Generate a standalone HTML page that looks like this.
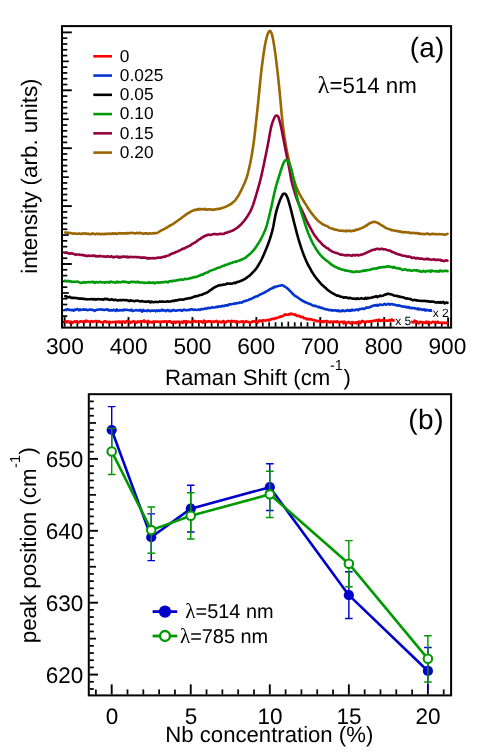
<!DOCTYPE html>
<html lang="en"><head><meta charset="utf-8"><title>Raman spectra</title>
<style>html,body{margin:0;padding:0;background:#fff;}body{width:501px;height:752px;position:relative;overflow:hidden;font-family:"Liberation Sans", sans-serif;}</style></head>
<body>
<svg width="501" height="752" viewBox="0 0 501 752" style="display:block;position:absolute;left:0;top:0;will-change:transform" font-family='"Liberation Sans", sans-serif' fill="#000" text-rendering="geometricPrecision">
<rect x="0" y="0" width="501" height="752" fill="#ffffff"/>
<defs><clipPath id="ca"><rect x="62.0" y="26.1" width="389.1" height="301.5"/></clipPath></defs>
<g stroke="#000" stroke-linecap="butt"><line x1="64.60" y1="326.60" x2="64.60" y2="317.10" stroke-width="1.9"/><line x1="70.99" y1="326.60" x2="70.99" y2="322.30" stroke-width="1.7"/><line x1="77.38" y1="326.60" x2="77.38" y2="322.30" stroke-width="1.7"/><line x1="83.78" y1="326.60" x2="83.78" y2="322.30" stroke-width="1.7"/><line x1="90.17" y1="326.60" x2="90.17" y2="322.30" stroke-width="1.7"/><line x1="96.56" y1="326.60" x2="96.56" y2="321.60" stroke-width="1.7"/><line x1="102.95" y1="326.60" x2="102.95" y2="322.30" stroke-width="1.7"/><line x1="109.34" y1="326.60" x2="109.34" y2="322.30" stroke-width="1.7"/><line x1="115.74" y1="326.60" x2="115.74" y2="322.30" stroke-width="1.7"/><line x1="122.13" y1="326.60" x2="122.13" y2="322.30" stroke-width="1.7"/><line x1="128.52" y1="326.60" x2="128.52" y2="317.10" stroke-width="1.9"/><line x1="134.91" y1="326.60" x2="134.91" y2="322.30" stroke-width="1.7"/><line x1="141.30" y1="326.60" x2="141.30" y2="322.30" stroke-width="1.7"/><line x1="147.70" y1="326.60" x2="147.70" y2="322.30" stroke-width="1.7"/><line x1="154.09" y1="326.60" x2="154.09" y2="322.30" stroke-width="1.7"/><line x1="160.48" y1="326.60" x2="160.48" y2="321.60" stroke-width="1.7"/><line x1="166.87" y1="326.60" x2="166.87" y2="322.30" stroke-width="1.7"/><line x1="173.26" y1="326.60" x2="173.26" y2="322.30" stroke-width="1.7"/><line x1="179.66" y1="326.60" x2="179.66" y2="322.30" stroke-width="1.7"/><line x1="186.05" y1="326.60" x2="186.05" y2="322.30" stroke-width="1.7"/><line x1="192.44" y1="326.60" x2="192.44" y2="317.10" stroke-width="1.9"/><line x1="198.83" y1="326.60" x2="198.83" y2="322.30" stroke-width="1.7"/><line x1="205.22" y1="326.60" x2="205.22" y2="322.30" stroke-width="1.7"/><line x1="211.62" y1="326.60" x2="211.62" y2="322.30" stroke-width="1.7"/><line x1="218.01" y1="326.60" x2="218.01" y2="322.30" stroke-width="1.7"/><line x1="224.40" y1="326.60" x2="224.40" y2="321.60" stroke-width="1.7"/><line x1="230.79" y1="326.60" x2="230.79" y2="322.30" stroke-width="1.7"/><line x1="237.18" y1="326.60" x2="237.18" y2="322.30" stroke-width="1.7"/><line x1="243.58" y1="326.60" x2="243.58" y2="322.30" stroke-width="1.7"/><line x1="249.97" y1="326.60" x2="249.97" y2="322.30" stroke-width="1.7"/><line x1="256.36" y1="326.60" x2="256.36" y2="317.10" stroke-width="1.9"/><line x1="262.75" y1="326.60" x2="262.75" y2="322.30" stroke-width="1.7"/><line x1="269.14" y1="326.60" x2="269.14" y2="322.30" stroke-width="1.7"/><line x1="275.54" y1="326.60" x2="275.54" y2="322.30" stroke-width="1.7"/><line x1="281.93" y1="326.60" x2="281.93" y2="322.30" stroke-width="1.7"/><line x1="288.32" y1="326.60" x2="288.32" y2="321.60" stroke-width="1.7"/><line x1="294.71" y1="326.60" x2="294.71" y2="322.30" stroke-width="1.7"/><line x1="301.10" y1="326.60" x2="301.10" y2="322.30" stroke-width="1.7"/><line x1="307.50" y1="326.60" x2="307.50" y2="322.30" stroke-width="1.7"/><line x1="313.89" y1="326.60" x2="313.89" y2="322.30" stroke-width="1.7"/><line x1="320.28" y1="326.60" x2="320.28" y2="317.10" stroke-width="1.9"/><line x1="326.67" y1="326.60" x2="326.67" y2="322.30" stroke-width="1.7"/><line x1="333.06" y1="326.60" x2="333.06" y2="322.30" stroke-width="1.7"/><line x1="339.46" y1="326.60" x2="339.46" y2="322.30" stroke-width="1.7"/><line x1="345.85" y1="326.60" x2="345.85" y2="322.30" stroke-width="1.7"/><line x1="352.24" y1="326.60" x2="352.24" y2="321.60" stroke-width="1.7"/><line x1="358.63" y1="326.60" x2="358.63" y2="322.30" stroke-width="1.7"/><line x1="365.02" y1="326.60" x2="365.02" y2="322.30" stroke-width="1.7"/><line x1="371.42" y1="326.60" x2="371.42" y2="322.30" stroke-width="1.7"/><line x1="377.81" y1="326.60" x2="377.81" y2="322.30" stroke-width="1.7"/><line x1="384.20" y1="326.60" x2="384.20" y2="317.10" stroke-width="1.9"/><line x1="390.59" y1="326.60" x2="390.59" y2="322.30" stroke-width="1.7"/><line x1="396.98" y1="326.60" x2="396.98" y2="322.30" stroke-width="1.7"/><line x1="403.38" y1="326.60" x2="403.38" y2="322.30" stroke-width="1.7"/><line x1="409.77" y1="326.60" x2="409.77" y2="322.30" stroke-width="1.7"/><line x1="416.16" y1="326.60" x2="416.16" y2="321.60" stroke-width="1.7"/><line x1="422.55" y1="326.60" x2="422.55" y2="322.30" stroke-width="1.7"/><line x1="428.94" y1="326.60" x2="428.94" y2="322.30" stroke-width="1.7"/><line x1="435.34" y1="326.60" x2="435.34" y2="322.30" stroke-width="1.7"/><line x1="441.73" y1="326.60" x2="441.73" y2="322.30" stroke-width="1.7"/><line x1="448.12" y1="326.60" x2="448.12" y2="317.10" stroke-width="1.9"/><line x1="63.00" y1="32.40" x2="71.80" y2="32.40" stroke-width="1.9"/><line x1="63.00" y1="38.19" x2="67.30" y2="38.19" stroke-width="1.7"/><line x1="63.00" y1="43.98" x2="67.30" y2="43.98" stroke-width="1.7"/><line x1="63.00" y1="49.77" x2="67.30" y2="49.77" stroke-width="1.7"/><line x1="63.00" y1="55.56" x2="67.30" y2="55.56" stroke-width="1.7"/><line x1="63.00" y1="61.35" x2="68.80" y2="61.35" stroke-width="1.7"/><line x1="63.00" y1="67.14" x2="67.30" y2="67.14" stroke-width="1.7"/><line x1="63.00" y1="72.93" x2="67.30" y2="72.93" stroke-width="1.7"/><line x1="63.00" y1="78.72" x2="67.30" y2="78.72" stroke-width="1.7"/><line x1="63.00" y1="84.51" x2="67.30" y2="84.51" stroke-width="1.7"/><line x1="63.00" y1="90.30" x2="71.80" y2="90.30" stroke-width="1.9"/><line x1="63.00" y1="96.09" x2="67.30" y2="96.09" stroke-width="1.7"/><line x1="63.00" y1="101.88" x2="67.30" y2="101.88" stroke-width="1.7"/><line x1="63.00" y1="107.67" x2="67.30" y2="107.67" stroke-width="1.7"/><line x1="63.00" y1="113.46" x2="67.30" y2="113.46" stroke-width="1.7"/><line x1="63.00" y1="119.25" x2="68.80" y2="119.25" stroke-width="1.7"/><line x1="63.00" y1="125.04" x2="67.30" y2="125.04" stroke-width="1.7"/><line x1="63.00" y1="130.83" x2="67.30" y2="130.83" stroke-width="1.7"/><line x1="63.00" y1="136.62" x2="67.30" y2="136.62" stroke-width="1.7"/><line x1="63.00" y1="142.41" x2="67.30" y2="142.41" stroke-width="1.7"/><line x1="63.00" y1="148.20" x2="71.80" y2="148.20" stroke-width="1.9"/><line x1="63.00" y1="153.99" x2="67.30" y2="153.99" stroke-width="1.7"/><line x1="63.00" y1="159.78" x2="67.30" y2="159.78" stroke-width="1.7"/><line x1="63.00" y1="165.57" x2="67.30" y2="165.57" stroke-width="1.7"/><line x1="63.00" y1="171.36" x2="67.30" y2="171.36" stroke-width="1.7"/><line x1="63.00" y1="177.15" x2="68.80" y2="177.15" stroke-width="1.7"/><line x1="63.00" y1="182.94" x2="67.30" y2="182.94" stroke-width="1.7"/><line x1="63.00" y1="188.73" x2="67.30" y2="188.73" stroke-width="1.7"/><line x1="63.00" y1="194.52" x2="67.30" y2="194.52" stroke-width="1.7"/><line x1="63.00" y1="200.31" x2="67.30" y2="200.31" stroke-width="1.7"/><line x1="63.00" y1="206.10" x2="71.80" y2="206.10" stroke-width="1.9"/><line x1="63.00" y1="211.89" x2="67.30" y2="211.89" stroke-width="1.7"/><line x1="63.00" y1="217.68" x2="67.30" y2="217.68" stroke-width="1.7"/><line x1="63.00" y1="223.47" x2="67.30" y2="223.47" stroke-width="1.7"/><line x1="63.00" y1="229.26" x2="67.30" y2="229.26" stroke-width="1.7"/><line x1="63.00" y1="235.05" x2="68.80" y2="235.05" stroke-width="1.7"/><line x1="63.00" y1="240.84" x2="67.30" y2="240.84" stroke-width="1.7"/><line x1="63.00" y1="246.63" x2="67.30" y2="246.63" stroke-width="1.7"/><line x1="63.00" y1="252.42" x2="67.30" y2="252.42" stroke-width="1.7"/><line x1="63.00" y1="258.21" x2="67.30" y2="258.21" stroke-width="1.7"/><line x1="63.00" y1="264.00" x2="71.80" y2="264.00" stroke-width="1.9"/><line x1="63.00" y1="269.79" x2="67.30" y2="269.79" stroke-width="1.7"/><line x1="63.00" y1="275.58" x2="67.30" y2="275.58" stroke-width="1.7"/><line x1="63.00" y1="281.37" x2="67.30" y2="281.37" stroke-width="1.7"/><line x1="63.00" y1="287.16" x2="67.30" y2="287.16" stroke-width="1.7"/><line x1="63.00" y1="292.95" x2="68.80" y2="292.95" stroke-width="1.7"/><line x1="63.00" y1="298.74" x2="67.30" y2="298.74" stroke-width="1.7"/><line x1="63.00" y1="304.53" x2="67.30" y2="304.53" stroke-width="1.7"/><line x1="63.00" y1="310.32" x2="67.30" y2="310.32" stroke-width="1.7"/><line x1="63.00" y1="316.11" x2="67.30" y2="316.11" stroke-width="1.7"/><line x1="63.00" y1="321.90" x2="71.80" y2="321.90" stroke-width="1.9"/></g>
<g fill="none" stroke-width="2.6" stroke-linejoin="round" stroke-linecap="round" clip-path="url(#ca)">
<path d="M65.30,232.40 L66.35,232.66 L67.40,232.73 L68.45,232.76 L69.50,233.01 L70.55,233.01 L71.60,233.38 L72.65,233.80 L73.70,233.40 L74.75,233.44 L75.80,233.80 L76.85,233.82 L77.90,233.79 L78.95,233.54 L80.00,233.82 L81.05,234.06 L82.10,233.50 L83.15,233.78 L84.20,233.40 L85.25,233.59 L86.30,233.46 L87.35,233.94 L88.40,233.66 L89.45,234.12 L90.50,234.11 L91.55,234.02 L92.60,233.34 L93.65,233.93 L94.70,234.08 L95.75,234.13 L96.80,233.64 L97.85,233.95 L98.90,233.80 L99.95,233.83 L101.00,234.35 L102.05,233.79 L103.10,233.99 L104.15,234.22 L105.20,233.77 L106.25,233.87 L107.30,233.90 L108.35,233.85 L109.40,233.45 L110.45,233.77 L111.50,234.08 L112.55,233.23 L113.60,233.85 L114.65,233.61 L115.70,233.35 L116.75,234.04 L117.80,233.66 L118.85,233.07 L119.90,233.38 L120.95,233.49 L122.00,233.24 L123.05,233.45 L124.10,233.20 L125.15,233.39 L126.20,233.58 L127.25,232.95 L128.30,233.19 L129.35,232.98 L130.40,233.14 L131.45,232.75 L132.50,232.93 L133.55,233.05 L134.60,233.38 L135.65,233.47 L136.70,232.79 L137.75,232.97 L138.80,233.41 L139.85,232.70 L140.90,233.17 L141.95,233.30 L143.00,233.72 L144.05,233.59 L145.10,233.33 L146.15,233.35 L147.20,233.40 L148.25,233.94 L149.30,233.37 L150.35,233.41 L151.40,233.58 L152.45,233.41 L153.50,233.33 L154.55,233.02 L155.60,233.22 L156.65,232.93 L157.70,232.74 L158.75,232.04 L159.80,231.29 L160.85,230.77 L161.90,230.10 L162.95,229.78 L164.00,229.10 L165.05,228.66 L166.10,227.84 L167.15,227.51 L168.20,226.63 L169.25,225.97 L170.30,225.58 L171.35,224.85 L172.40,224.32 L173.45,223.90 L174.50,222.81 L175.55,222.12 L176.60,221.50 L177.65,220.80 L178.70,219.97 L179.75,219.21 L180.80,218.50 L181.85,217.67 L182.90,216.74 L183.95,216.11 L185.00,215.37 L186.05,214.49 L187.10,213.92 L188.15,213.08 L189.20,212.67 L190.25,211.96 L191.30,211.41 L192.35,210.84 L193.40,210.55 L194.45,209.89 L195.50,209.80 L196.55,209.86 L197.60,209.10 L198.65,209.59 L199.70,208.82 L200.75,209.42 L201.80,208.95 L202.85,209.44 L203.90,209.27 L204.95,208.81 L206.00,209.63 L207.05,209.70 L208.10,209.34 L209.15,209.37 L210.20,209.49 L211.25,209.37 L212.30,209.99 L213.35,209.54 L214.40,209.62 L215.45,209.32 L216.50,209.18 L217.55,208.83 L218.60,209.15 L219.65,208.63 L220.70,208.60 L221.75,208.12 L222.80,207.67 L223.85,207.39 L224.90,206.98 L225.95,206.67 L227.00,206.15 L228.05,205.65 L229.10,204.94 L230.15,204.40 L231.20,204.02 L232.25,202.95 L233.30,202.03 L234.35,201.19 L235.40,200.14 L236.45,198.53 L237.50,197.08 L238.55,195.37 L239.60,193.43 L240.65,191.48 L241.70,189.22 L242.75,186.97 L243.80,184.73 L244.85,182.50 L245.90,179.82 L246.95,176.65 L248.00,172.81 L249.05,168.47 L250.10,163.77 L251.15,158.48 L252.20,152.52 L253.25,145.75 L254.30,138.04 L255.35,128.76 L256.40,118.93 L257.45,109.15 L258.50,99.01 L259.55,88.02 L260.60,77.52 L261.65,68.34 L262.70,60.07 L263.75,52.70 L264.80,46.06 L265.85,40.81 L266.90,36.56 L267.95,33.34 L269.00,31.39 L270.05,30.92 L271.10,32.13 L272.15,34.93 L273.20,39.92 L274.25,46.34 L275.30,53.58 L276.35,61.89 L277.40,70.60 L278.45,80.04 L279.50,90.38 L280.55,101.67 L281.60,113.56 L282.65,123.29 L283.70,131.46 L284.75,138.60 L285.80,145.07 L286.85,150.86 L287.90,155.96 L288.95,160.70 L290.00,165.32 L291.05,169.64 L292.10,173.70 L293.15,177.47 L294.20,180.89 L295.25,183.99 L296.30,186.88 L297.35,189.39 L298.40,191.59 L299.45,193.76 L300.50,195.65 L301.55,197.57 L302.60,199.29 L303.65,201.06 L304.70,202.74 L305.75,204.44 L306.80,206.20 L307.85,207.77 L308.90,209.45 L309.95,210.98 L311.00,212.57 L312.05,213.67 L313.10,215.22 L314.15,216.45 L315.20,217.72 L316.25,218.77 L317.30,219.95 L318.35,221.05 L319.40,221.83 L320.45,222.66 L321.50,223.37 L322.55,224.26 L323.60,224.76 L324.65,225.04 L325.70,225.80 L326.75,226.11 L327.80,226.41 L328.85,227.31 L329.90,228.06 L330.95,228.28 L332.00,228.45 L333.05,228.83 L334.10,229.53 L335.15,229.60 L336.20,229.80 L337.25,230.00 L338.30,230.23 L339.35,230.60 L340.40,230.73 L341.45,230.81 L342.50,230.61 L343.55,231.10 L344.60,230.80 L345.65,231.32 L346.70,230.62 L347.75,230.93 L348.80,230.94 L349.85,230.54 L350.90,231.31 L351.95,231.12 L353.00,230.53 L354.05,230.67 L355.10,230.38 L356.15,229.53 L357.20,229.79 L358.25,229.40 L359.30,229.07 L360.35,228.47 L361.40,228.14 L362.45,227.66 L363.50,227.33 L364.55,226.65 L365.60,225.96 L366.65,225.48 L367.70,224.53 L368.75,223.91 L369.80,223.04 L370.85,222.92 L371.90,222.42 L372.95,222.08 L374.00,221.89 L375.05,221.85 L376.10,222.25 L377.15,222.62 L378.20,223.12 L379.25,223.73 L380.30,224.55 L381.35,225.05 L382.40,225.62 L383.45,226.27 L384.50,226.94 L385.55,227.86 L386.60,228.22 L387.65,228.63 L388.70,228.99 L389.75,229.22 L390.80,229.73 L391.85,230.22 L392.90,230.25 L393.95,230.54 L395.00,230.78 L396.05,231.06 L397.10,230.86 L398.15,231.33 L399.20,231.33 L400.25,231.89 L401.30,231.62 L402.35,232.07 L403.40,232.42 L404.45,232.08 L405.50,232.11 L406.55,232.41 L407.60,232.47 L408.65,232.33 L409.70,232.80 L410.75,233.29 L411.80,232.83 L412.85,232.94 L413.90,232.83 L414.95,233.27 L416.00,232.96 L417.05,233.09 L418.10,233.79 L419.15,233.30 L420.20,233.90 L421.25,234.09 L422.30,233.81 L423.35,233.95 L424.40,234.39 L425.45,233.83 L426.50,233.75 L427.55,233.57 L428.60,233.99 L429.65,234.43 L430.70,234.31 L431.75,233.80 L432.80,233.85 L433.85,233.97 L434.90,234.22 L435.95,234.10 L437.00,234.25 L438.05,234.29 L439.10,234.14 L440.15,234.23 L441.20,234.32 L442.25,234.24 L443.30,234.43 L444.35,234.84 L445.40,234.47 L446.45,234.31 L447.50,233.80" stroke="#996600"/>
<path d="M65.30,252.90 L66.35,252.46 L67.40,252.75 L68.45,253.48 L69.50,253.60 L70.55,253.53 L71.60,253.28 L72.65,253.78 L73.70,253.84 L74.75,254.33 L75.80,254.89 L76.85,254.52 L77.90,254.43 L78.95,254.49 L80.00,254.93 L81.05,255.04 L82.10,254.90 L83.15,255.36 L84.20,255.09 L85.25,255.81 L86.30,255.88 L87.35,255.96 L88.40,255.58 L89.45,255.93 L90.50,255.81 L91.55,255.80 L92.60,255.87 L93.65,255.64 L94.70,255.65 L95.75,256.37 L96.80,256.13 L97.85,256.30 L98.90,256.58 L99.95,255.79 L101.00,256.12 L102.05,256.46 L103.10,256.56 L104.15,256.36 L105.20,256.83 L106.25,256.61 L107.30,256.20 L108.35,256.32 L109.40,256.89 L110.45,256.81 L111.50,256.09 L112.55,257.14 L113.60,256.92 L114.65,257.18 L115.70,256.65 L116.75,256.69 L117.80,256.45 L118.85,257.63 L119.90,256.78 L120.95,257.36 L122.00,256.67 L123.05,256.94 L124.10,256.38 L125.15,256.81 L126.20,257.26 L127.25,256.58 L128.30,257.33 L129.35,257.13 L130.40,256.73 L131.45,256.93 L132.50,256.98 L133.55,257.15 L134.60,257.05 L135.65,257.02 L136.70,257.24 L137.75,257.10 L138.80,257.09 L139.85,257.53 L140.90,257.87 L141.95,257.25 L143.00,257.77 L144.05,257.65 L145.10,257.62 L146.15,258.23 L147.20,257.93 L148.25,258.60 L149.30,258.01 L150.35,258.41 L151.40,258.22 L152.45,258.04 L153.50,258.38 L154.55,258.09 L155.60,258.21 L156.65,257.92 L157.70,257.53 L158.75,257.69 L159.80,257.61 L160.85,257.71 L161.90,257.07 L162.95,257.11 L164.00,256.51 L165.05,256.83 L166.10,256.18 L167.15,255.67 L168.20,255.51 L169.25,255.22 L170.30,254.30 L171.35,253.93 L172.40,253.55 L173.45,253.03 L174.50,252.85 L175.55,252.18 L176.60,251.74 L177.65,251.50 L178.70,250.80 L179.75,250.53 L180.80,249.80 L181.85,249.27 L182.90,248.66 L183.95,248.79 L185.00,247.91 L186.05,247.50 L187.10,246.94 L188.15,246.44 L189.20,245.89 L190.25,245.63 L191.30,244.59 L192.35,243.93 L193.40,243.41 L194.45,242.73 L195.50,242.31 L196.55,241.56 L197.60,240.55 L198.65,239.72 L199.70,239.14 L200.75,238.71 L201.80,237.41 L202.85,237.19 L203.90,236.31 L204.95,236.13 L206.00,235.35 L207.05,235.22 L208.10,234.69 L209.15,234.59 L210.20,235.05 L211.25,234.82 L212.30,234.40 L213.35,234.21 L214.40,233.86 L215.45,234.29 L216.50,234.37 L217.55,234.30 L218.60,234.22 L219.65,233.83 L220.70,233.97 L221.75,233.81 L222.80,233.94 L223.85,233.87 L224.90,233.18 L225.95,232.79 L227.00,232.65 L228.05,232.22 L229.10,231.84 L230.15,231.60 L231.20,231.00 L232.25,230.81 L233.30,230.16 L234.35,229.64 L235.40,228.95 L236.45,228.20 L237.50,227.43 L238.55,226.68 L239.60,225.73 L240.65,224.82 L241.70,223.71 L242.75,222.43 L243.80,221.34 L244.85,219.90 L245.90,218.56 L246.95,217.07 L248.00,215.30 L249.05,213.70 L250.10,211.79 L251.15,209.71 L252.20,207.30 L253.25,204.35 L254.30,201.00 L255.35,197.60 L256.40,194.17 L257.45,190.66 L258.50,186.92 L259.55,183.10 L260.60,179.01 L261.65,174.58 L262.70,169.84 L263.75,164.93 L264.80,159.85 L265.85,154.83 L266.90,149.59 L267.95,144.23 L269.00,138.60 L270.05,132.42 L271.10,127.09 L272.15,123.38 L273.20,120.41 L274.25,118.00 L275.30,116.05 L276.35,115.49 L277.40,115.72 L278.45,117.10 L279.50,120.59 L280.55,124.73 L281.60,129.60 L282.65,134.93 L283.70,140.28 L284.75,145.85 L285.80,151.28 L286.85,156.62 L287.90,161.73 L288.95,166.95 L290.00,172.46 L291.05,178.76 L292.10,183.35 L293.15,187.15 L294.20,190.69 L295.25,194.28 L296.30,197.56 L297.35,200.47 L298.40,203.05 L299.45,205.35 L300.50,207.49 L301.55,209.66 L302.60,211.70 L303.65,214.01 L304.70,216.37 L305.75,218.68 L306.80,220.99 L307.85,223.16 L308.90,225.19 L309.95,227.22 L311.00,229.08 L312.05,230.94 L313.10,232.92 L314.15,234.59 L315.20,236.20 L316.25,237.44 L317.30,238.88 L318.35,240.11 L319.40,241.28 L320.45,242.27 L321.50,243.55 L322.55,244.69 L323.60,245.58 L324.65,246.33 L325.70,247.20 L326.75,248.05 L327.80,248.28 L328.85,249.34 L329.90,250.08 L330.95,250.72 L332.00,251.45 L333.05,251.88 L334.10,252.20 L335.15,252.61 L336.20,253.06 L337.25,253.15 L338.30,253.59 L339.35,254.10 L340.40,254.63 L341.45,254.42 L342.50,254.67 L343.55,254.90 L344.60,255.35 L345.65,255.05 L346.70,255.56 L347.75,254.91 L348.80,255.20 L349.85,255.25 L350.90,255.59 L351.95,255.71 L353.00,254.91 L354.05,255.10 L355.10,255.47 L356.15,255.12 L357.20,254.80 L358.25,255.39 L359.30,255.12 L360.35,254.97 L361.40,254.53 L362.45,254.54 L363.50,253.93 L364.55,253.79 L365.60,253.01 L366.65,252.58 L367.70,252.19 L368.75,251.47 L369.80,251.20 L370.85,250.73 L371.90,250.13 L372.95,250.00 L374.00,249.60 L375.05,249.59 L376.10,248.97 L377.15,248.70 L378.20,248.88 L379.25,249.24 L380.30,249.13 L381.35,248.69 L382.40,248.87 L383.45,249.34 L384.50,249.18 L385.55,249.30 L386.60,249.86 L387.65,250.28 L388.70,250.37 L389.75,250.61 L390.80,251.06 L391.85,251.87 L392.90,252.03 L393.95,252.55 L395.00,253.04 L396.05,253.55 L397.10,253.82 L398.15,254.39 L399.20,254.48 L400.25,254.89 L401.30,255.01 L402.35,255.75 L403.40,255.73 L404.45,255.80 L405.50,256.11 L406.55,256.35 L407.60,256.77 L408.65,256.41 L409.70,256.72 L410.75,257.06 L411.80,257.96 L412.85,257.72 L413.90,257.60 L414.95,257.96 L416.00,258.45 L417.05,257.98 L418.10,258.07 L419.15,258.62 L420.20,258.54 L421.25,258.70 L422.30,258.48 L423.35,259.26 L424.40,259.30 L425.45,259.08 L426.50,259.20 L427.55,258.54 L428.60,259.38 L429.65,259.24 L430.70,259.51 L431.75,259.68 L432.80,259.49 L433.85,259.21 L434.90,259.88 L435.95,259.67 L437.00,259.88 L438.05,259.89 L439.10,260.06 L440.15,259.60 L441.20,260.68 L442.25,260.50 L443.30,260.84 L444.35,261.17 L445.40,260.71 L446.45,260.28 L447.50,260.62" stroke="#94003e"/>
<path d="M65.30,280.66 L66.35,281.00 L67.40,281.30 L68.45,280.83 L69.50,281.63 L70.55,281.19 L71.60,281.83 L72.65,281.79 L73.70,281.78 L74.75,281.91 L75.80,281.80 L76.85,281.82 L77.90,281.51 L78.95,282.10 L80.00,282.77 L81.05,282.85 L82.10,282.65 L83.15,282.45 L84.20,281.96 L85.25,282.72 L86.30,282.18 L87.35,282.18 L88.40,282.10 L89.45,282.23 L90.50,282.04 L91.55,282.17 L92.60,281.81 L93.65,282.07 L94.70,283.02 L95.75,282.17 L96.80,282.11 L97.85,282.39 L98.90,282.45 L99.95,281.80 L101.00,282.13 L102.05,282.53 L103.10,282.30 L104.15,282.24 L105.20,282.76 L106.25,281.96 L107.30,282.23 L108.35,282.01 L109.40,282.74 L110.45,281.50 L111.50,281.96 L112.55,282.01 L113.60,282.44 L114.65,282.42 L115.70,282.70 L116.75,281.63 L117.80,282.47 L118.85,282.09 L119.90,281.96 L120.95,282.39 L122.00,281.87 L123.05,281.45 L124.10,282.07 L125.15,281.66 L126.20,281.97 L127.25,282.33 L128.30,282.31 L129.35,282.77 L130.40,282.13 L131.45,281.65 L132.50,281.93 L133.55,281.89 L134.60,281.80 L135.65,282.40 L136.70,282.06 L137.75,281.64 L138.80,282.58 L139.85,282.35 L140.90,282.55 L141.95,282.51 L143.00,282.73 L144.05,282.57 L145.10,283.02 L146.15,282.78 L147.20,282.81 L148.25,282.85 L149.30,282.25 L150.35,282.72 L151.40,282.72 L152.45,282.91 L153.50,282.40 L154.55,283.46 L155.60,282.94 L156.65,282.48 L157.70,282.29 L158.75,282.65 L159.80,282.61 L160.85,282.31 L161.90,282.44 L162.95,282.11 L164.00,282.34 L165.05,281.84 L166.10,281.91 L167.15,282.06 L168.20,282.39 L169.25,281.23 L170.30,281.25 L171.35,281.01 L172.40,281.35 L173.45,280.66 L174.50,280.72 L175.55,280.71 L176.60,280.29 L177.65,280.15 L178.70,280.14 L179.75,279.53 L180.80,279.55 L181.85,279.67 L182.90,279.65 L183.95,279.39 L185.00,278.79 L186.05,278.96 L187.10,279.10 L188.15,278.84 L189.20,278.47 L190.25,278.05 L191.30,278.20 L192.35,277.66 L193.40,277.27 L194.45,277.09 L195.50,277.30 L196.55,276.68 L197.60,276.50 L198.65,275.76 L199.70,275.63 L200.75,274.89 L201.80,274.53 L202.85,274.60 L203.90,273.82 L204.95,273.13 L206.00,272.78 L207.05,272.44 L208.10,272.17 L209.15,271.40 L210.20,270.70 L211.25,270.53 L212.30,270.14 L213.35,269.70 L214.40,269.49 L215.45,268.85 L216.50,268.52 L217.55,267.72 L218.60,267.70 L219.65,267.55 L220.70,266.89 L221.75,266.39 L222.80,265.98 L223.85,265.94 L224.90,265.00 L225.95,264.79 L227.00,264.54 L228.05,264.23 L229.10,263.62 L230.15,263.41 L231.20,262.94 L232.25,262.71 L233.30,262.34 L234.35,261.81 L235.40,261.77 L236.45,261.66 L237.50,260.93 L238.55,260.75 L239.60,260.57 L240.65,259.82 L241.70,259.62 L242.75,258.90 L243.80,258.67 L244.85,258.17 L245.90,257.39 L246.95,256.28 L248.00,255.60 L249.05,254.66 L250.10,253.74 L251.15,252.93 L252.20,251.52 L253.25,250.65 L254.30,249.29 L255.35,248.07 L256.40,246.47 L257.45,244.80 L258.50,243.19 L259.55,241.45 L260.60,239.54 L261.65,237.65 L262.70,235.53 L263.75,233.20 L264.80,230.95 L265.85,228.20 L266.90,224.88 L267.95,221.01 L269.00,216.85 L270.05,212.49 L271.10,208.05 L272.15,203.26 L273.20,198.38 L274.25,193.47 L275.30,189.12 L276.35,185.14 L277.40,181.58 L278.45,178.24 L279.50,174.76 L280.55,171.40 L281.60,168.19 L282.65,165.13 L283.70,162.74 L284.75,160.81 L285.80,160.12 L286.85,160.20 L287.90,160.84 L288.95,162.77 L290.00,165.30 L291.05,168.71 L292.10,172.55 L293.15,176.98 L294.20,182.09 L295.25,188.13 L296.30,193.36 L297.35,198.10 L298.40,202.27 L299.45,206.12 L300.50,209.67 L301.55,213.01 L302.60,216.37 L303.65,219.49 L304.70,222.86 L305.75,226.02 L306.80,229.25 L307.85,232.17 L308.90,234.64 L309.95,237.16 L311.00,239.59 L312.05,241.78 L313.10,243.84 L314.15,245.70 L315.20,247.54 L316.25,249.27 L317.30,250.84 L318.35,252.48 L319.40,253.58 L320.45,255.16 L321.50,256.12 L322.55,257.41 L323.60,258.23 L324.65,259.05 L325.70,260.09 L326.75,260.73 L327.80,261.54 L328.85,262.25 L329.90,263.27 L330.95,264.14 L332.00,264.97 L333.05,265.50 L334.10,266.34 L335.15,266.73 L336.20,267.21 L337.25,267.81 L338.30,268.36 L339.35,268.52 L340.40,268.93 L341.45,269.31 L342.50,269.70 L343.55,269.77 L344.60,270.49 L345.65,270.36 L346.70,270.79 L347.75,270.65 L348.80,271.15 L349.85,271.31 L350.90,271.19 L351.95,272.05 L353.00,271.57 L354.05,272.09 L355.10,271.86 L356.15,271.34 L357.20,271.46 L358.25,271.76 L359.30,271.60 L360.35,271.52 L361.40,271.30 L362.45,270.73 L363.50,270.98 L364.55,270.26 L365.60,270.76 L366.65,270.30 L367.70,270.13 L368.75,270.07 L369.80,270.01 L370.85,269.36 L371.90,269.08 L372.95,269.03 L374.00,268.55 L375.05,268.54 L376.10,268.87 L377.15,267.97 L378.20,268.13 L379.25,267.39 L380.30,267.63 L381.35,267.27 L382.40,267.14 L383.45,267.12 L384.50,267.28 L385.55,266.71 L386.60,266.59 L387.65,266.16 L388.70,266.71 L389.75,266.55 L390.80,267.00 L391.85,266.96 L392.90,267.63 L393.95,266.89 L395.00,267.54 L396.05,268.09 L397.10,268.10 L398.15,268.29 L399.20,268.67 L400.25,268.58 L401.30,269.16 L402.35,269.97 L403.40,269.79 L404.45,269.33 L405.50,269.55 L406.55,269.82 L407.60,270.36 L408.65,269.95 L409.70,270.10 L410.75,270.68 L411.80,270.76 L412.85,270.45 L413.90,270.30 L414.95,270.24 L416.00,270.58 L417.05,270.16 L418.10,271.18 L419.15,270.80 L420.20,271.22 L421.25,271.73 L422.30,271.56 L423.35,270.83 L424.40,271.54 L425.45,271.67 L426.50,271.03 L427.55,270.96 L428.60,271.26 L429.65,270.72 L430.70,271.83 L431.75,270.43 L432.80,270.90 L433.85,271.19 L434.90,271.20 L435.95,271.33 L437.00,271.35 L438.05,271.17 L439.10,271.62 L440.15,270.47 L441.20,271.18 L442.25,270.90 L443.30,271.16 L444.35,271.14 L445.40,270.72 L446.45,270.77 L447.50,271.17" stroke="#009a0a"/>
<path d="M65.30,296.17 L66.35,296.24 L67.40,297.04 L68.45,297.35 L69.50,296.76 L70.55,297.34 L71.60,298.02 L72.65,297.80 L73.70,297.83 L74.75,297.88 L75.80,297.95 L76.85,298.16 L77.90,298.23 L78.95,298.68 L80.00,298.55 L81.05,298.66 L82.10,298.57 L83.15,298.94 L84.20,298.76 L85.25,299.00 L86.30,299.38 L87.35,299.22 L88.40,299.29 L89.45,299.27 L90.50,299.21 L91.55,299.17 L92.60,299.14 L93.65,299.47 L94.70,298.95 L95.75,299.67 L96.80,299.30 L97.85,299.09 L98.90,299.18 L99.95,299.14 L101.00,299.40 L102.05,299.16 L103.10,299.72 L104.15,299.18 L105.20,298.78 L106.25,299.24 L107.30,298.91 L108.35,299.50 L109.40,299.84 L110.45,299.76 L111.50,299.25 L112.55,299.45 L113.60,300.19 L114.65,299.84 L115.70,299.80 L116.75,300.14 L117.80,300.57 L118.85,300.30 L119.90,300.04 L120.95,300.16 L122.00,300.29 L123.05,300.01 L124.10,299.95 L125.15,300.31 L126.20,300.10 L127.25,300.40 L128.30,300.51 L129.35,301.17 L130.40,300.38 L131.45,300.63 L132.50,300.69 L133.55,300.91 L134.60,301.14 L135.65,300.81 L136.70,300.80 L137.75,300.66 L138.80,300.92 L139.85,301.38 L140.90,301.33 L141.95,301.13 L143.00,301.37 L144.05,301.55 L145.10,301.74 L146.15,301.52 L147.20,301.70 L148.25,301.37 L149.30,301.62 L150.35,302.43 L151.40,301.45 L152.45,301.99 L153.50,302.17 L154.55,301.98 L155.60,301.84 L156.65,302.02 L157.70,301.99 L158.75,301.93 L159.80,301.39 L160.85,301.82 L161.90,301.58 L162.95,301.60 L164.00,301.74 L165.05,301.78 L166.10,301.77 L167.15,301.32 L168.20,301.60 L169.25,301.56 L170.30,301.44 L171.35,301.39 L172.40,300.89 L173.45,300.75 L174.50,300.85 L175.55,300.19 L176.60,300.42 L177.65,300.09 L178.70,299.98 L179.75,299.51 L180.80,299.54 L181.85,299.58 L182.90,299.61 L183.95,299.45 L185.00,299.02 L186.05,298.80 L187.10,298.46 L188.15,298.51 L189.20,298.15 L190.25,298.09 L191.30,298.06 L192.35,297.43 L193.40,296.87 L194.45,296.70 L195.50,296.28 L196.55,296.02 L197.60,296.17 L198.65,295.64 L199.70,295.00 L200.75,295.07 L201.80,294.83 L202.85,294.18 L203.90,293.74 L204.95,293.37 L206.00,293.00 L207.05,292.47 L208.10,291.85 L209.15,291.10 L210.20,290.34 L211.25,289.65 L212.30,288.91 L213.35,287.97 L214.40,287.51 L215.45,286.96 L216.50,286.31 L217.55,286.08 L218.60,285.52 L219.65,285.11 L220.70,285.33 L221.75,284.95 L222.80,284.65 L223.85,284.63 L224.90,284.52 L225.95,284.22 L227.00,283.41 L228.05,283.75 L229.10,283.70 L230.15,283.46 L231.20,283.62 L232.25,283.68 L233.30,283.11 L234.35,282.76 L235.40,283.14 L236.45,282.36 L237.50,281.91 L238.55,281.83 L239.60,281.49 L240.65,280.90 L241.70,280.71 L242.75,280.04 L243.80,279.44 L244.85,278.98 L245.90,278.38 L246.95,277.46 L248.00,276.78 L249.05,275.87 L250.10,275.28 L251.15,273.94 L252.20,273.15 L253.25,271.96 L254.30,270.85 L255.35,269.66 L256.40,268.24 L257.45,266.71 L258.50,264.96 L259.55,263.14 L260.60,261.29 L261.65,259.31 L262.70,257.10 L263.75,254.80 L264.80,252.30 L265.85,249.83 L266.90,247.29 L267.95,244.54 L269.00,241.59 L270.05,238.50 L271.10,235.09 L272.15,231.40 L273.20,226.98 L274.25,221.37 L275.30,215.65 L276.35,211.42 L277.40,207.72 L278.45,204.42 L279.50,201.48 L280.55,198.86 L281.60,196.61 L282.65,194.58 L283.70,193.62 L284.75,193.81 L285.80,194.27 L286.85,196.28 L287.90,198.85 L288.95,202.34 L290.00,206.05 L291.05,210.03 L292.10,214.34 L293.15,218.63 L294.20,222.98 L295.25,226.98 L296.30,231.08 L297.35,235.05 L298.40,238.74 L299.45,242.33 L300.50,245.66 L301.55,248.88 L302.60,251.83 L303.65,254.67 L304.70,257.26 L305.75,259.88 L306.80,262.22 L307.85,264.29 L308.90,266.32 L309.95,268.17 L311.00,270.18 L312.05,272.08 L313.10,273.64 L314.15,275.30 L315.20,276.76 L316.25,278.05 L317.30,279.59 L318.35,280.65 L319.40,281.96 L320.45,283.17 L321.50,284.33 L322.55,285.30 L323.60,286.27 L324.65,287.12 L325.70,288.02 L326.75,289.10 L327.80,289.91 L328.85,290.70 L329.90,291.51 L330.95,292.35 L332.00,292.85 L333.05,293.52 L334.10,293.99 L335.15,294.71 L336.20,295.16 L337.25,295.82 L338.30,295.57 L339.35,296.05 L340.40,296.67 L341.45,296.74 L342.50,296.98 L343.55,297.64 L344.60,297.41 L345.65,297.40 L346.70,297.50 L347.75,298.03 L348.80,298.15 L349.85,297.87 L350.90,298.08 L351.95,298.56 L353.00,298.68 L354.05,298.45 L355.10,298.85 L356.15,298.90 L357.20,298.27 L358.25,298.71 L359.30,298.91 L360.35,298.60 L361.40,298.13 L362.45,298.55 L363.50,298.73 L364.55,298.84 L365.60,297.79 L366.65,298.87 L367.70,297.83 L368.75,298.16 L369.80,298.05 L370.85,297.81 L371.90,297.45 L372.95,296.98 L374.00,297.19 L375.05,296.70 L376.10,296.11 L377.15,297.06 L378.20,296.40 L379.25,296.44 L380.30,295.65 L381.35,295.91 L382.40,295.68 L383.45,295.41 L384.50,294.83 L385.55,294.35 L386.60,294.37 L387.65,293.72 L388.70,293.71 L389.75,294.26 L390.80,294.19 L391.85,294.61 L392.90,294.90 L393.95,295.58 L395.00,295.70 L396.05,295.71 L397.10,296.25 L398.15,296.16 L399.20,296.53 L400.25,297.04 L401.30,296.87 L402.35,297.32 L403.40,297.36 L404.45,297.91 L405.50,298.47 L406.55,298.23 L407.60,298.68 L408.65,298.68 L409.70,298.85 L410.75,299.05 L411.80,299.84 L412.85,300.24 L413.90,300.01 L414.95,299.90 L416.00,300.38 L417.05,300.27 L418.10,300.68 L419.15,300.68 L420.20,300.80 L421.25,301.00 L422.30,300.81 L423.35,300.96 L424.40,300.73 L425.45,301.15 L426.50,301.00 L427.55,301.41 L428.60,301.29 L429.65,301.65 L430.70,301.82 L431.75,301.42 L432.80,301.66 L433.85,301.70 L434.90,302.22 L435.95,302.55 L437.00,302.40 L438.05,302.15 L439.10,302.71 L440.15,301.98 L441.20,302.85 L442.25,302.34 L443.30,301.82 L444.35,303.35 L445.40,303.12 L446.45,302.46 L447.50,302.83" stroke="#000000"/>
<path d="M65.30,309.71 L66.35,309.84 L67.40,309.21 L68.45,309.53 L69.50,309.99 L70.55,309.89 L71.60,310.28 L72.65,309.83 L73.70,310.74 L74.75,309.51 L75.80,309.90 L76.85,309.03 L77.90,309.30 L78.95,310.33 L80.00,309.42 L81.05,310.01 L82.10,309.78 L83.15,309.38 L84.20,309.66 L85.25,309.59 L86.30,309.61 L87.35,310.10 L88.40,310.06 L89.45,309.57 L90.50,309.44 L91.55,309.91 L92.60,309.76 L93.65,310.21 L94.70,310.86 L95.75,310.14 L96.80,309.79 L97.85,309.73 L98.90,309.46 L99.95,309.44 L101.00,309.40 L102.05,309.64 L103.10,309.63 L104.15,310.10 L105.20,309.64 L106.25,309.72 L107.30,309.31 L108.35,310.46 L109.40,310.00 L110.45,310.51 L111.50,310.13 L112.55,310.41 L113.60,309.74 L114.65,310.13 L115.70,310.92 L116.75,309.41 L117.80,310.36 L118.85,310.58 L119.90,310.10 L120.95,310.26 L122.00,310.48 L123.05,309.75 L124.10,310.19 L125.15,309.72 L126.20,309.81 L127.25,309.86 L128.30,310.07 L129.35,310.20 L130.40,310.35 L131.45,309.63 L132.50,310.99 L133.55,310.69 L134.60,310.54 L135.65,310.14 L136.70,310.27 L137.75,310.55 L138.80,310.52 L139.85,309.74 L140.90,310.71 L141.95,311.58 L143.00,309.76 L144.05,310.90 L145.10,310.68 L146.15,310.52 L147.20,311.13 L148.25,310.15 L149.30,310.70 L150.35,311.23 L151.40,310.59 L152.45,310.51 L153.50,310.74 L154.55,310.52 L155.60,311.33 L156.65,310.33 L157.70,311.05 L158.75,310.18 L159.80,310.95 L160.85,310.62 L161.90,309.62 L162.95,310.63 L164.00,310.19 L165.05,310.42 L166.10,311.18 L167.15,310.11 L168.20,310.11 L169.25,311.06 L170.30,310.51 L171.35,311.04 L172.40,310.53 L173.45,310.04 L174.50,310.32 L175.55,310.80 L176.60,310.65 L177.65,310.26 L178.70,310.25 L179.75,310.16 L180.80,309.95 L181.85,310.90 L182.90,310.12 L183.95,309.65 L185.00,309.87 L186.05,310.30 L187.10,310.23 L188.15,309.90 L189.20,309.66 L190.25,309.88 L191.30,309.19 L192.35,309.29 L193.40,310.03 L194.45,309.50 L195.50,309.75 L196.55,309.97 L197.60,309.69 L198.65,309.37 L199.70,310.00 L200.75,309.40 L201.80,308.94 L202.85,309.20 L203.90,308.97 L204.95,308.43 L206.00,308.62 L207.05,308.42 L208.10,307.70 L209.15,308.16 L210.20,307.98 L211.25,307.78 L212.30,307.25 L213.35,307.50 L214.40,307.44 L215.45,307.32 L216.50,306.77 L217.55,307.15 L218.60,306.41 L219.65,306.54 L220.70,306.83 L221.75,306.04 L222.80,305.91 L223.85,306.20 L224.90,305.57 L225.95,305.40 L227.00,305.35 L228.05,305.39 L229.10,304.23 L230.15,304.43 L231.20,304.17 L232.25,303.94 L233.30,303.80 L234.35,303.60 L235.40,303.72 L236.45,303.15 L237.50,303.22 L238.55,303.06 L239.60,302.49 L240.65,302.47 L241.70,302.59 L242.75,301.94 L243.80,301.37 L244.85,301.17 L245.90,300.59 L246.95,300.48 L248.00,300.22 L249.05,299.42 L250.10,299.13 L251.15,299.00 L252.20,298.21 L253.25,297.91 L254.30,297.19 L255.35,296.76 L256.40,296.34 L257.45,296.40 L258.50,295.36 L259.55,294.82 L260.60,294.29 L261.65,293.83 L262.70,293.43 L263.75,292.76 L264.80,292.52 L265.85,291.59 L266.90,291.25 L267.95,290.48 L269.00,290.01 L270.05,289.06 L271.10,288.77 L272.15,288.26 L273.20,287.73 L274.25,286.85 L275.30,287.14 L276.35,286.49 L277.40,286.15 L278.45,285.93 L279.50,285.75 L280.55,285.77 L281.60,285.07 L282.65,285.25 L283.70,285.96 L284.75,286.57 L285.80,287.21 L286.85,287.91 L287.90,288.74 L288.95,289.80 L290.00,290.95 L291.05,291.76 L292.10,293.26 L293.15,294.31 L294.20,295.10 L295.25,296.13 L296.30,296.54 L297.35,297.21 L298.40,297.97 L299.45,298.80 L300.50,299.48 L301.55,300.11 L302.60,300.86 L303.65,301.05 L304.70,302.11 L305.75,302.24 L306.80,302.86 L307.85,303.36 L308.90,303.62 L309.95,303.97 L311.00,304.44 L312.05,305.05 L313.10,305.55 L314.15,305.89 L315.20,305.85 L316.25,306.22 L317.30,306.49 L318.35,307.14 L319.40,306.82 L320.45,307.95 L321.50,307.80 L322.55,308.01 L323.60,308.58 L324.65,309.04 L325.70,309.10 L326.75,309.54 L327.80,309.49 L328.85,310.01 L329.90,310.18 L330.95,309.92 L332.00,310.55 L333.05,310.30 L334.10,310.42 L335.15,310.23 L336.20,310.55 L337.25,311.02 L338.30,310.39 L339.35,311.15 L340.40,311.10 L341.45,311.11 L342.50,310.13 L343.55,310.93 L344.60,311.16 L345.65,310.60 L346.70,310.82 L347.75,309.90 L348.80,310.83 L349.85,310.28 L350.90,310.69 L351.95,309.68 L353.00,310.41 L354.05,310.00 L355.10,310.23 L356.15,309.54 L357.20,309.51 L358.25,310.26 L359.30,309.15 L360.35,309.03 L361.40,308.98 L362.45,308.57 L363.50,308.97 L364.55,308.87 L365.60,307.96 L366.65,307.43 L367.70,307.81 L368.75,307.45 L369.80,307.06 L370.85,306.87 L371.90,306.07 L372.95,305.98 L374.00,305.39 L375.05,305.12 L376.10,305.58 L377.15,304.90 L378.20,305.64 L379.25,304.81 L380.30,304.44 L381.35,304.80 L382.40,305.07 L383.45,304.55 L384.50,303.88 L385.55,304.42 L386.60,304.76 L387.65,304.02 L388.70,303.89 L389.75,304.59 L390.80,304.34 L391.85,304.07 L392.90,304.45 L393.95,304.49 L395.00,304.96 L396.05,305.08 L397.10,305.57 L398.15,305.64 L399.20,305.20 L400.25,305.96 L401.30,306.31 L402.35,306.40 L403.40,306.78 L404.45,306.57 L405.50,306.68 L406.55,307.43 L407.60,307.09 L408.65,306.99 L409.70,308.11 L410.75,307.79 L411.80,308.09 L412.85,307.93 L413.90,308.11 L414.95,308.32 L416.00,308.72 L417.05,309.10 L418.10,308.40 L419.15,309.50 L420.20,309.02 L421.25,309.18 L422.30,309.86 L423.35,309.72 L424.40,309.33 L425.45,310.57 L426.50,309.74 L427.55,310.20 L428.60,310.26 L429.65,310.77 L430.70,310.17 L431.75,310.75" stroke="#0535cf"/>
<path d="M65.30,321.29 L66.35,322.32 L67.40,321.28 L68.45,321.50 L69.50,322.74 L70.55,321.87 L71.60,321.76 L72.65,322.93 L73.70,321.90 L74.75,321.25 L75.80,322.10 L76.85,321.05 L77.90,322.32 L78.95,322.36 L80.00,321.38 L81.05,321.35 L82.10,321.80 L83.15,321.71 L84.20,321.16 L85.25,322.01 L86.30,320.58 L87.35,321.46 L88.40,321.48 L89.45,321.55 L90.50,321.87 L91.55,321.02 L92.60,322.02 L93.65,321.60 L94.70,321.34 L95.75,320.95 L96.80,321.05 L97.85,321.90 L98.90,321.17 L99.95,321.74 L101.00,322.28 L102.05,322.27 L103.10,322.56 L104.15,321.54 L105.20,321.10 L106.25,322.26 L107.30,321.87 L108.35,322.32 L109.40,321.71 L110.45,322.36 L111.50,322.17 L112.55,322.09 L113.60,321.98 L114.65,321.92 L115.70,321.83 L116.75,321.82 L117.80,322.24 L118.85,321.42 L119.90,322.65 L120.95,321.64 L122.00,322.24 L123.05,321.65 L124.10,321.56 L125.15,322.82 L126.20,321.53 L127.25,321.00 L128.30,321.31 L129.35,321.53 L130.40,322.89 L131.45,321.81 L132.50,322.21 L133.55,321.15 L134.60,321.89 L135.65,322.07 L136.70,322.69 L137.75,321.32 L138.80,322.03 L139.85,321.87 L140.90,321.14 L141.95,321.69 L143.00,321.56 L144.05,320.42 L145.10,322.03 L146.15,322.00 L147.20,321.46 L148.25,320.96 L149.30,322.51 L150.35,321.85 L151.40,322.26 L152.45,322.48 L153.50,321.41 L154.55,322.15 L155.60,321.57 L156.65,321.67 L157.70,321.65 L158.75,321.70 L159.80,322.31 L160.85,321.77 L161.90,321.62 L162.95,321.55 L164.00,321.89 L165.05,321.21 L166.10,321.42 L167.15,321.67 L168.20,321.39 L169.25,321.63 L170.30,321.36 L171.35,322.80 L172.40,322.43 L173.45,321.95 L174.50,321.67 L175.55,322.90 L176.60,321.88 L177.65,321.65 L178.70,321.87 L179.75,321.87 L180.80,322.48 L181.85,321.69 L182.90,322.85 L183.95,321.21 L185.00,322.08 L186.05,321.15 L187.10,322.70 L188.15,321.52 L189.20,321.67 L190.25,322.21 L191.30,322.39 L192.35,321.09 L193.40,321.51 L194.45,320.93 L195.50,321.78 L196.55,321.64 L197.60,321.51 L198.65,321.32 L199.70,321.49 L200.75,321.29 L201.80,321.99 L202.85,322.53 L203.90,320.64 L204.95,321.64 L206.00,321.47 L207.05,321.97 L208.10,321.18 L209.15,321.62 L210.20,321.13 L211.25,322.08 L212.30,321.75 L213.35,321.61 L214.40,321.90 L215.45,321.56 L216.50,320.85 L217.55,322.03 L218.60,321.86 L219.65,321.62 L220.70,322.24 L221.75,322.37 L222.80,321.10 L223.85,321.27 L224.90,322.55 L225.95,322.48 L227.00,321.29 L228.05,321.05 L229.10,321.35 L230.15,321.43 L231.20,320.83 L232.25,321.72 L233.30,321.00 L234.35,321.03 L235.40,322.20 L236.45,321.32 L237.50,321.66 L238.55,322.05 L239.60,322.15 L240.65,321.51 L241.70,321.72 L242.75,321.25 L243.80,322.66 L244.85,322.06 L245.90,321.09 L246.95,321.70 L248.00,322.09 L249.05,321.96 L250.10,322.71 L251.15,322.45 L252.20,321.40 L253.25,321.65 L254.30,321.01 L255.35,321.80 L256.40,321.69 L257.45,322.81 L258.50,321.48 L259.55,320.39 L260.60,320.90 L261.65,321.11 L262.70,320.38 L263.75,320.40 L264.80,320.48 L265.85,320.64 L266.90,320.28 L267.95,319.81 L269.00,320.32 L270.05,319.60 L271.10,319.40 L272.15,318.85 L273.20,318.82 L274.25,319.03 L275.30,317.93 L276.35,318.10 L277.40,318.00 L278.45,317.28 L279.50,317.11 L280.55,316.30 L281.60,316.64 L282.65,316.16 L283.70,315.49 L284.75,314.48 L285.80,314.41 L286.85,314.79 L287.90,314.79 L288.95,314.06 L290.00,314.44 L291.05,313.55 L292.10,313.93 L293.15,314.28 L294.20,314.75 L295.25,314.41 L296.30,315.56 L297.35,316.03 L298.40,315.65 L299.45,315.98 L300.50,316.91 L301.55,316.93 L302.60,316.70 L303.65,318.10 L304.70,318.21 L305.75,318.30 L306.80,319.51 L307.85,319.06 L308.90,318.99 L309.95,319.55 L311.00,319.32 L312.05,319.62 L313.10,320.26 L314.15,320.01 L315.20,320.20 L316.25,321.26 L317.30,321.04 L318.35,321.15 L319.40,321.15 L320.45,321.25 L321.50,321.81 L322.55,321.24 L323.60,322.21 L324.65,320.99 L325.70,321.40 L326.75,320.94 L327.80,321.51 L328.85,321.99 L329.90,322.52 L330.95,321.53 L332.00,321.92 L333.05,321.79 L334.10,321.66 L335.15,321.49 L336.20,322.16 L337.25,321.31 L338.30,322.29 L339.35,322.29 L340.40,321.98 L341.45,321.84 L342.50,321.67 L343.55,323.40 L344.60,321.74 L345.65,323.30 L346.70,322.81 L347.75,322.30 L348.80,321.86 L349.85,323.06 L350.90,323.41 L351.95,321.97 L353.00,322.28 L354.05,322.95 L355.10,322.54 L356.15,323.33 L357.20,321.98 L358.25,322.48 L359.30,321.54 L360.35,323.11 L361.40,321.66 L362.45,320.88 L363.50,321.81 L364.55,321.73 L365.60,322.62 L366.65,321.47 L367.70,321.49 L368.75,321.59 L369.80,321.86 L370.85,321.00 L371.90,321.38 L372.95,321.04 L374.00,320.56 L375.05,320.63 L376.10,320.51 L377.15,319.97 L378.20,320.96 L379.25,319.58 L380.30,320.94 L381.35,320.82 L382.40,320.25 L383.45,319.88 L384.50,320.18 L385.55,320.56 L386.60,320.71 L387.65,320.46 L388.70,320.85 L389.75,319.99 L390.80,320.43 L391.85,319.44 L392.90,320.72 L393.95,320.38" stroke="#ff0000"/>
<path d="M411.50,321.68 L412.55,322.53 L413.60,322.32 L414.65,320.52 L415.70,322.04 L416.75,321.29 L417.80,322.63 L418.85,323.41 L419.90,321.86 L420.95,322.19 L422.00,322.04 L423.05,322.38 L424.10,322.56 L425.15,322.92 L426.20,321.73 L427.25,323.11 L428.30,321.78 L429.35,322.44 L430.40,322.93 L431.45,322.70 L432.50,321.81 L433.55,321.95 L434.60,322.09 L435.65,322.32 L436.70,322.98 L437.75,321.66 L438.80,322.62 L439.85,322.71 L440.90,322.69 L441.95,322.64 L443.00,323.22 L444.05,322.66 L445.10,322.87 L446.15,322.71 L447.20,323.38" stroke="#ff0000"/>
</g>
<rect x="62.0" y="26.1" width="389.1" height="301.5" fill="none" stroke="#000" stroke-width="2.0"/>
<line x1="93.3" y1="56.30" x2="112" y2="56.30" stroke="#ff0000" stroke-width="2.6"/>
<text x="119.8" y="61.70" font-size="17.3" letter-spacing="0.05">0</text>
<line x1="93.3" y1="75.56" x2="112" y2="75.56" stroke="#0535cf" stroke-width="2.6"/>
<text x="119.8" y="80.96" font-size="17.3" letter-spacing="0.05">0.025</text>
<line x1="93.3" y1="94.82" x2="112" y2="94.82" stroke="#000000" stroke-width="2.6"/>
<text x="119.8" y="100.22" font-size="17.3" letter-spacing="0.05">0.05</text>
<line x1="93.3" y1="114.08" x2="112" y2="114.08" stroke="#009a0a" stroke-width="2.6"/>
<text x="119.8" y="119.48" font-size="17.3" letter-spacing="0.05">0.10</text>
<line x1="93.3" y1="133.34" x2="112" y2="133.34" stroke="#94003e" stroke-width="2.6"/>
<text x="119.8" y="138.74" font-size="17.3" letter-spacing="0.05">0.15</text>
<line x1="93.3" y1="152.60" x2="112" y2="152.60" stroke="#996600" stroke-width="2.6"/>
<text x="119.8" y="158.00" font-size="17.3" letter-spacing="0.05">0.20</text>
<text x="409.7" y="57.2" font-size="28" letter-spacing="0.25">(a)</text>
<text x="317.8" y="93" font-size="22.3"><tspan font-family="Liberation Serif" font-size="24">&#955;</tspan>=514 nm</text>
<rect x="432.2" y="307.6" width="17.9" height="9.8" fill="#fff"/>
<rect x="394.8" y="315.4" width="16.4" height="11.2" fill="#fff"/>
<text x="432.7" y="316.5" font-size="12">x 2</text>
<text x="395.2" y="324.7" font-size="12">x 5</text>
<text x="64.90" y="354.4" font-size="22.7" text-anchor="middle">300</text>
<text x="128.65" y="354.4" font-size="22.7" text-anchor="middle">400</text>
<text x="192.40" y="354.4" font-size="22.7" text-anchor="middle">500</text>
<text x="256.15" y="354.4" font-size="22.7" text-anchor="middle">600</text>
<text x="319.90" y="354.4" font-size="22.7" text-anchor="middle">700</text>
<text x="383.65" y="354.4" font-size="22.7" text-anchor="middle">800</text>
<text x="447.40" y="354.4" font-size="22.7" text-anchor="middle">900</text>
<text x="165" y="384.6" font-size="22.2">Raman Shift (cm<tspan font-size="14.5" dy="-14.6" dx="-0.3">-1</tspan><tspan dy="14.6" dx="0.6">)</tspan></text>
<text transform="translate(37.4 273.8) rotate(-90)" font-size="22.4">intensity (arb. units)</text>
<g stroke="#000"><line x1="95.89" y1="694.40" x2="95.89" y2="689.40" stroke-width="1.75"/><line x1="111.70" y1="694.40" x2="111.70" y2="684.40" stroke-width="1.9"/><line x1="127.51" y1="694.40" x2="127.51" y2="689.40" stroke-width="1.75"/><line x1="143.32" y1="694.40" x2="143.32" y2="689.40" stroke-width="1.75"/><line x1="159.13" y1="694.40" x2="159.13" y2="689.40" stroke-width="1.75"/><line x1="174.94" y1="694.40" x2="174.94" y2="689.40" stroke-width="1.75"/><line x1="190.75" y1="694.40" x2="190.75" y2="684.40" stroke-width="1.9"/><line x1="206.56" y1="694.40" x2="206.56" y2="689.40" stroke-width="1.75"/><line x1="222.37" y1="694.40" x2="222.37" y2="689.40" stroke-width="1.75"/><line x1="238.18" y1="694.40" x2="238.18" y2="689.40" stroke-width="1.75"/><line x1="253.99" y1="694.40" x2="253.99" y2="689.40" stroke-width="1.75"/><line x1="269.80" y1="694.40" x2="269.80" y2="684.40" stroke-width="1.9"/><line x1="285.61" y1="694.40" x2="285.61" y2="689.40" stroke-width="1.75"/><line x1="301.42" y1="694.40" x2="301.42" y2="689.40" stroke-width="1.75"/><line x1="317.23" y1="694.40" x2="317.23" y2="689.40" stroke-width="1.75"/><line x1="333.04" y1="694.40" x2="333.04" y2="689.40" stroke-width="1.75"/><line x1="348.85" y1="694.40" x2="348.85" y2="684.40" stroke-width="1.9"/><line x1="364.66" y1="694.40" x2="364.66" y2="689.40" stroke-width="1.75"/><line x1="380.47" y1="694.40" x2="380.47" y2="689.40" stroke-width="1.75"/><line x1="396.28" y1="694.40" x2="396.28" y2="689.40" stroke-width="1.75"/><line x1="412.09" y1="694.40" x2="412.09" y2="689.40" stroke-width="1.75"/><line x1="427.90" y1="694.40" x2="427.90" y2="684.40" stroke-width="1.9"/><line x1="443.71" y1="694.40" x2="443.71" y2="689.40" stroke-width="1.75"/><line x1="89.80" y1="688.98" x2="93.80" y2="688.98" stroke-width="1.75"/><line x1="89.80" y1="681.79" x2="93.80" y2="681.79" stroke-width="1.75"/><line x1="89.80" y1="674.60" x2="98.00" y2="674.60" stroke-width="1.9"/><line x1="89.80" y1="667.41" x2="93.80" y2="667.41" stroke-width="1.75"/><line x1="89.80" y1="660.22" x2="93.80" y2="660.22" stroke-width="1.75"/><line x1="89.80" y1="653.03" x2="93.80" y2="653.03" stroke-width="1.75"/><line x1="89.80" y1="645.84" x2="93.80" y2="645.84" stroke-width="1.75"/><line x1="89.80" y1="638.65" x2="96.00" y2="638.65" stroke-width="1.75"/><line x1="89.80" y1="631.46" x2="93.80" y2="631.46" stroke-width="1.75"/><line x1="89.80" y1="624.27" x2="93.80" y2="624.27" stroke-width="1.75"/><line x1="89.80" y1="617.08" x2="93.80" y2="617.08" stroke-width="1.75"/><line x1="89.80" y1="609.89" x2="93.80" y2="609.89" stroke-width="1.75"/><line x1="89.80" y1="602.70" x2="98.00" y2="602.70" stroke-width="1.9"/><line x1="89.80" y1="595.51" x2="93.80" y2="595.51" stroke-width="1.75"/><line x1="89.80" y1="588.32" x2="93.80" y2="588.32" stroke-width="1.75"/><line x1="89.80" y1="581.13" x2="93.80" y2="581.13" stroke-width="1.75"/><line x1="89.80" y1="573.94" x2="93.80" y2="573.94" stroke-width="1.75"/><line x1="89.80" y1="566.75" x2="96.00" y2="566.75" stroke-width="1.75"/><line x1="89.80" y1="559.56" x2="93.80" y2="559.56" stroke-width="1.75"/><line x1="89.80" y1="552.37" x2="93.80" y2="552.37" stroke-width="1.75"/><line x1="89.80" y1="545.18" x2="93.80" y2="545.18" stroke-width="1.75"/><line x1="89.80" y1="537.99" x2="93.80" y2="537.99" stroke-width="1.75"/><line x1="89.80" y1="530.80" x2="98.00" y2="530.80" stroke-width="1.9"/><line x1="89.80" y1="523.61" x2="93.80" y2="523.61" stroke-width="1.75"/><line x1="89.80" y1="516.42" x2="93.80" y2="516.42" stroke-width="1.75"/><line x1="89.80" y1="509.23" x2="93.80" y2="509.23" stroke-width="1.75"/><line x1="89.80" y1="502.04" x2="93.80" y2="502.04" stroke-width="1.75"/><line x1="89.80" y1="494.85" x2="96.00" y2="494.85" stroke-width="1.75"/><line x1="89.80" y1="487.66" x2="93.80" y2="487.66" stroke-width="1.75"/><line x1="89.80" y1="480.47" x2="93.80" y2="480.47" stroke-width="1.75"/><line x1="89.80" y1="473.28" x2="93.80" y2="473.28" stroke-width="1.75"/><line x1="89.80" y1="466.09" x2="93.80" y2="466.09" stroke-width="1.75"/><line x1="89.80" y1="458.90" x2="98.00" y2="458.90" stroke-width="1.9"/><line x1="89.80" y1="451.71" x2="93.80" y2="451.71" stroke-width="1.75"/><line x1="89.80" y1="444.52" x2="93.80" y2="444.52" stroke-width="1.75"/><line x1="89.80" y1="437.33" x2="93.80" y2="437.33" stroke-width="1.75"/><line x1="89.80" y1="430.14" x2="93.80" y2="430.14" stroke-width="1.75"/><line x1="89.80" y1="422.95" x2="96.00" y2="422.95" stroke-width="1.75"/><line x1="89.80" y1="415.76" x2="93.80" y2="415.76" stroke-width="1.75"/><line x1="89.80" y1="408.57" x2="93.80" y2="408.57" stroke-width="1.75"/><line x1="89.80" y1="401.38" x2="93.80" y2="401.38" stroke-width="1.75"/></g>
<defs><clipPath id="cb"><rect x="88.8" y="394.2" width="362.3" height="296.90000000000003"/></clipPath></defs>
<g stroke="#0000cc" fill="none" clip-path="url(#cb)"><path d="M111.70,406.62 V453.38 M107.90,406.62 h7.6 M107.90,453.38 h7.6" stroke-width="1.45"/><path d="M151.22,513.87 V560.63 M147.42,513.87 h7.6 M147.42,560.63 h7.6" stroke-width="1.45"/><path d="M190.75,485.27 V532.03 M186.95,485.27 h7.6 M186.95,532.03 h7.6" stroke-width="1.45"/><path d="M269.80,463.82 V510.58 M266.00,463.82 h7.6 M266.00,510.58 h7.6" stroke-width="1.45"/><path d="M348.85,571.78 V618.55 M345.05,571.78 h7.6 M345.05,618.55 h7.6" stroke-width="1.45"/><path d="M427.90,647.57 V694.34 M424.10,647.57 h7.6 M424.10,694.34 h7.6" stroke-width="1.45"/><path d="M111.70,430.00 L151.22,537.25 L190.75,508.65 L269.80,487.20 L348.85,595.16 L427.90,670.95" stroke-width="2.6" stroke-linejoin="round"/><circle cx="111.70" cy="430.00" r="5.1" fill="#0000cc" stroke="none"/><circle cx="151.22" cy="537.25" r="5.1" fill="#0000cc" stroke="none"/><circle cx="190.75" cy="508.65" r="5.1" fill="#0000cc" stroke="none"/><circle cx="269.80" cy="487.20" r="5.1" fill="#0000cc" stroke="none"/><circle cx="348.85" cy="595.16" r="5.1" fill="#0000cc" stroke="none"/><circle cx="427.90" cy="670.95" r="5.1" fill="#0000cc" stroke="none"/></g>
<g stroke="#009900" fill="none" clip-path="url(#cb)"><path d="M111.70,428.36 V474.55 M107.90,428.36 h7.6 M107.90,474.55 h7.6" stroke-width="1.45"/><path d="M151.22,507.01 V553.20 M147.42,507.01 h7.6 M147.42,553.20 h7.6" stroke-width="1.45"/><path d="M190.75,492.71 V538.90 M186.95,492.71 h7.6 M186.95,538.90 h7.6" stroke-width="1.45"/><path d="M269.80,471.25 V517.44 M266.00,471.25 h7.6 M266.00,517.44 h7.6" stroke-width="1.45"/><path d="M348.85,540.61 V586.80 M345.05,540.61 h7.6 M345.05,586.80 h7.6" stroke-width="1.45"/><path d="M427.90,635.71 V681.90 M424.10,635.71 h7.6 M424.10,681.90 h7.6" stroke-width="1.45"/><path d="M111.70,451.45 L151.22,530.10 L190.75,515.80 L269.80,494.35 L348.85,563.70 L427.90,658.80" stroke-width="2.6" stroke-linejoin="round"/><circle cx="111.70" cy="451.45" r="4.25" fill="#fff" stroke-width="2.05"/><circle cx="151.22" cy="530.10" r="4.25" fill="#fff" stroke-width="2.05"/><circle cx="190.75" cy="515.80" r="4.25" fill="#fff" stroke-width="2.05"/><circle cx="269.80" cy="494.35" r="4.25" fill="#fff" stroke-width="2.05"/><circle cx="348.85" cy="563.70" r="4.25" fill="#fff" stroke-width="2.05"/><circle cx="427.90" cy="658.80" r="4.25" fill="#fff" stroke-width="2.05"/></g>
<rect x="88.8" y="394.2" width="362.3" height="301.2" fill="none" stroke="#000" stroke-width="2.0"/>
<line x1="152.6" y1="611.6" x2="177.2" y2="611.6" stroke="#0000cc" stroke-width="2.8"/><circle cx="165" cy="611.6" r="6.1" fill="#0000cc"/>
<line x1="152.6" y1="636.0" x2="177.2" y2="636.0" stroke="#009900" stroke-width="2.8"/><circle cx="165" cy="636.0" r="4.95" fill="#fff" stroke="#009900" stroke-width="2.4"/>
<text x="185.3" y="618.2" font-size="19.9"><tspan font-family="Liberation Serif" font-size="21.2">&#955;</tspan>=514 nm</text>
<text x="179.9" y="642.8" font-size="19.9"><tspan font-family="Liberation Serif" font-size="21.2">&#955;</tspan>=785 nm</text>
<text x="408.3" y="428.6" font-size="28" letter-spacing="0.5">(b)</text>
<text x="83.4" y="682.50" font-size="22.5" text-anchor="end">620</text>
<text x="83.4" y="610.60" font-size="22.5" text-anchor="end">630</text>
<text x="83.4" y="538.70" font-size="22.5" text-anchor="end">640</text>
<text x="83.4" y="466.80" font-size="22.5" text-anchor="end">650</text>
<text x="111.90" y="723.6" font-size="22.5" text-anchor="middle">0</text>
<text x="190.95" y="723.6" font-size="22.5" text-anchor="middle">5</text>
<text x="270.00" y="723.6" font-size="22.5" text-anchor="middle">10</text>
<text x="349.05" y="723.6" font-size="22.5" text-anchor="middle">15</text>
<text x="428.10" y="723.6" font-size="22.5" text-anchor="middle">20</text>
<text x="165.3" y="742.3" font-size="22.15">Nb concentration (%)</text>
<text transform="translate(35.6 643.2) rotate(-90)" font-size="22.3">peak position (cm<tspan font-size="14.5" dy="-15.6" dx="0.5">-1</tspan><tspan dy="15.1" dx="0.6">)</tspan></text>
</svg>
</body></html>
